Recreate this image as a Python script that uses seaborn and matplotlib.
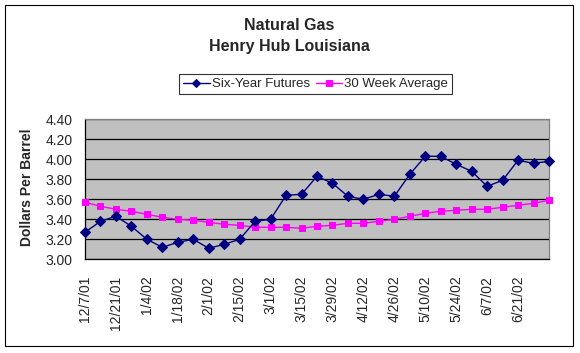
import seaborn as sns
import matplotlib.pyplot as plt
import matplotlib.patches as patches
import pandas as pd
import numpy as np

# weekly data, 12/7/01 .. 7/5/02
dates = ['12/7/01', '12/14/01', '12/21/01', '12/28/01', '1/4/02', '1/11/02', '1/18/02',
         '1/25/02', '2/1/02', '2/8/02', '2/15/02', '2/22/02', '3/1/02', '3/8/02',
         '3/15/02', '3/22/02', '3/29/02', '4/5/02', '4/12/02', '4/19/02', '4/26/02',
         '5/3/02', '5/10/02', '5/17/02', '5/24/02', '5/31/02', '6/7/02', '6/14/02',
         '6/21/02', '6/28/02', '7/5/02']
futures = [3.27, 3.38, 3.43, 3.33, 3.20, 3.12, 3.17, 3.20, 3.11, 3.15, 3.20, 3.38,
           3.40, 3.64, 3.65, 3.83, 3.76, 3.63, 3.60, 3.65, 3.63, 3.85, 4.03, 4.03,
           3.95, 3.88, 3.73, 3.79, 3.99, 3.96, 3.98]
avg30 = [3.57, 3.53, 3.50, 3.48, 3.45, 3.42, 3.40, 3.39, 3.37, 3.35, 3.34, 3.32,
         3.32, 3.32, 3.31, 3.33, 3.34, 3.36, 3.36, 3.38, 3.40, 3.43, 3.46, 3.48,
         3.49, 3.50, 3.50, 3.52, 3.54, 3.56, 3.59]
yticks = [3.00, 3.20, 3.40, 3.60, 3.80, 4.00, 4.20, 4.40]

df = pd.DataFrame({'idx': np.arange(len(dates)), 'date': dates,
                   'futures': futures, 'avg': avg30})

sns.set_style('white')
plt.rcParams['font.family'] = ['Liberation Sans', 'DejaVu Sans']

W, H = 580, 353
fig = plt.figure(figsize=(W / 100, H / 100), dpi=100)
ax = fig.add_axes([85 / W, 1 - 259.3 / H, (549 - 85) / W, (259.3 - 119.3) / H])
ax.set_facecolor('#C0C0C0')

sns.lineplot(data=df, x='idx', y='futures', ax=ax, color='#000080', lw=1,
             marker='D', markersize=5, markeredgecolor='#000080', clip_on=False,
             label='Six-Year Futures', zorder=4)
sns.lineplot(data=df, x='idx', y='avg', ax=ax, color='#FF00FF', lw=1,
             marker='s', markersize=5, markeredgecolor='#FF00FF', clip_on=False,
             label='30 Week Average', zorder=3)

ax.set_xlim(0, len(dates) - 1)
ax.set_ylim(3.0, 4.4)
ax.set_yticks(yticks)
ax.set_yticklabels([f'{v:.2f}' for v in yticks], fontsize=10)
ax.set_xticks(df['idx'][:29:2])
ax.set_xticklabels(df['date'][:29:2], rotation=90, fontsize=10)
ax.tick_params(axis='both', direction='out', length=5.8, width=0.8, color='black')
ax.tick_params(axis='x', pad=6)
ax.tick_params(axis='y', pad=3)
ax.set_xlabel('')
ax.set_ylabel('')

ax.yaxis.grid(True, color='black', lw=0.9)
ax.set_axisbelow(True)
for s in ['left', 'bottom']:
    ax.spines[s].set_color('black')
    ax.spines[s].set_linewidth(0.9)
for s in ['top', 'right']:
    ax.spines[s].set_color('#808080')
    ax.spines[s].set_linewidth(0.9)

ax.get_legend().remove()
h, l = ax.get_legend_handles_labels()
leg = fig.legend(h, l, loc='center', bbox_to_anchor=(315.5 / W, 1 - 84 / H), ncol=2,
                 frameon=True, fancybox=False, fontsize=9.5, handlelength=2.0,
                 handletextpad=0.15, columnspacing=0.45, borderpad=0.3,
                 borderaxespad=0)
leg.get_frame().set_edgecolor('black')
leg.get_frame().set_linewidth(0.8)
for lh in leg.legend_handles:
    lh.set_markersize(4)

fig.text(289.5 / W, 1 - 26 / H, 'Natural Gas', ha='center', va='center',
         fontsize=11.5, fontweight='bold')
fig.text(289.5 / W, 1 - 47 / H, 'Henry Hub Louisiana', ha='center', va='center',
         fontsize=11.5, fontweight='bold')
fig.text(27 / W, 1 - 187 / H, 'Dollars Per Barrel', rotation=90, ha='center',
         va='center', fontsize=10, fontweight='bold')

fig.patches.append(patches.Rectangle((5 / W, 1 - 346 / H), 568 / W, 341 / H,
                                     transform=fig.transFigure, fill=False,
                                     edgecolor='black', lw=0.8))

fig.savefig('out.png', dpi=100, facecolor='white')
